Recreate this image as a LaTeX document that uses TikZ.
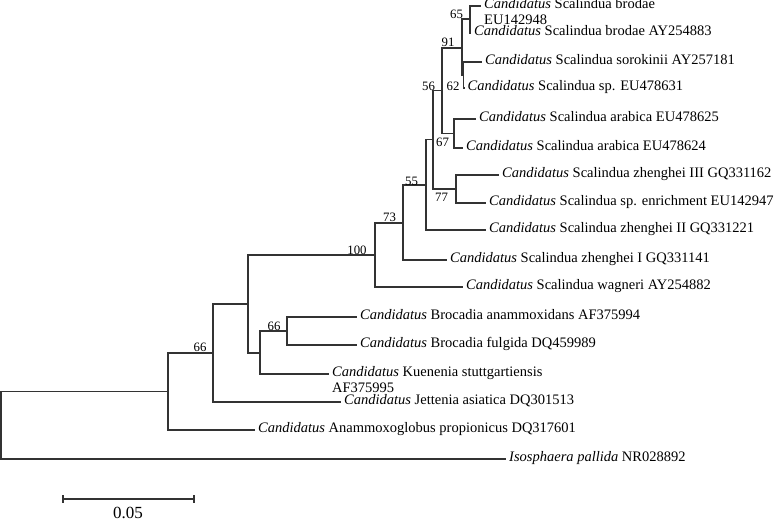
\documentclass[tikz,border=0pt]{standalone}
\usepackage{fontspec}
\setmainfont{Liberation Serif}
\begin{document}
\begin{tikzpicture}[x=1pt,y=-1pt,
  br/.style={line width=1.1pt,draw=black!80},
  leaf/.style={anchor=mid west,inner xsep=3pt,inner ysep=0pt,font=\fontsize{14.5}{16}\selectfont},
  leaftwo/.style={anchor=base west,inner xsep=3pt,inner ysep=0pt,font=\fontsize{14.5}{16}\selectfont},
  boot/.style={anchor=center,inner sep=0pt,font=\fontsize{12.8}{14}\selectfont},
  scalelab/.style={anchor=center,inner sep=0pt,font=\fontsize{17}{19}\selectfont}]
\useasboundingbox (0,0) rectangle (777,521);
% internal nodes
\coordinate (R)   at (1,425);
\coordinate (n66b) at (168,391.5);
\coordinate (nJ)  at (213,353);
\coordinate (nSB) at (248,304);
\coordinate (nBK) at (260,353);
\coordinate (n66a) at (287,331);
\coordinate (n100) at (375,255);
\coordinate (n73) at (403,223);
\coordinate (n55) at (426,185);
\coordinate (n67) at (433,139.5);
\coordinate (n77) at (456,189);
\coordinate (n56) at (442,90.5);
\coordinate (nAr) at (454,133.5);
\coordinate (n91) at (462,48);
\coordinate (n65) at (470,19);
\coordinate (n62) at (463.5,75);
% leaf tips
\coordinate (t1) at (481,6);
\coordinate (t2) at (471,33);
\coordinate (t3) at (482,62);
\coordinate (t4) at (464.5,88);
\coordinate (t5) at (476,119);
\coordinate (t6) at (463,148);
\coordinate (t7) at (499,175);
\coordinate (t8) at (486,203);
\coordinate (t9) at (486,230);
\coordinate (t10) at (447,260);
\coordinate (t11) at (463,287);
\coordinate (t12) at (357,317);
\coordinate (t13) at (357,345);
\coordinate (t14) at (329,374);
\coordinate (t15) at (341,402);
\coordinate (t16) at (255,430);
\coordinate (t17) at (506,459);
% branches
\draw[br] (R) |- (n66b); \draw[br] (R) |- (t17);
\draw[br] (n66b) |- (nJ); \draw[br] (n66b) |- (t16);
\draw[br] (nJ) |- (nSB); \draw[br] (nJ) |- (t15);
\draw[br] (nSB) |- (n100); \draw[br] (nSB) |- (nBK);
\draw[br] (nBK) |- (n66a); \draw[br] (nBK) |- (t14);
\draw[br] (n66a) |- (t12); \draw[br] (n66a) |- (t13);
\draw[br] (n100) |- (n73); \draw[br] (n100) |- (t11);
\draw[br] (n73) |- (n55); \draw[br] (n73) |- (t10);
\draw[br] (n55) |- (n67); \draw[br] (n55) |- (t9);
\draw[br] (n67) |- (n56); \draw[br] (n67) |- (n77);
\draw[br] (n77) |- (t7); \draw[br] (n77) |- (t8);
\draw[br] (n56) |- (n91); \draw[br] (n56) |- (nAr);
\draw[br] (nAr) |- (t5); \draw[br] (nAr) |- (t6);
\draw[br] (n91) |- (n65); \draw[br] (n91) |- (n62);
\draw[br] (n65) |- (t1); \draw[br] (n65) |- (t2);
\draw[br] (n62) |- (t3); \draw[br] (n62) |- (t4);
% leaf labels
\node[leaf] (l1) at (t1) {\textit{Candidatus} Scalindua brodae};
\node[leaftwo] (l1b) at ([yshift=-16pt]l1.base west) {EU142948};
\node[leaf] (l2) at (t2) {\textit{Candidatus} Scalindua brodae AY254883};
\node[leaf] (l3) at (t3) {\textit{Candidatus} Scalindua sorokinii AY257181};
\node[leaf] (l4) at (t4) {\textit{Candidatus} Scalindua sp. EU478631};
\node[leaf] (l5) at (t5) {\textit{Candidatus} Scalindua arabica EU478625};
\node[leaf] (l6) at (t6) {\textit{Candidatus} Scalindua arabica EU478624};
\node[leaf] (l7) at (t7) {\textit{Candidatus} Scalindua zhenghei III GQ331162};
\node[leaf] (l8) at (t8) {\textit{Candidatus} Scalindua sp. enrichment EU142947};
\node[leaf] (l9) at (t9) {\textit{Candidatus} Scalindua zhenghei II GQ331221};
\node[leaf] (l10) at (t10) {\textit{Candidatus} Scalindua zhenghei I GQ331141};
\node[leaf] (l11) at (t11) {\textit{Candidatus} Scalindua wagneri AY254882};
\node[leaf] (l12) at (t12) {\textit{Candidatus} Brocadia anammoxidans AF375994};
\node[leaf] (l13) at (t13) {\textit{Candidatus} Brocadia fulgida DQ459989};
\node[leaf] (l14) at (t14) {\textit{Candidatus} Kuenenia stuttgartiensis};
\node[leaftwo] (l14b) at ([yshift=-16pt]l14.base west) {AF375995};
\node[leaf] (l15) at (t15) {\textit{Candidatus} Jettenia asiatica DQ301513};
\node[leaf] (l16) at (t16) {\textit{Candidatus} Anammoxoglobus propionicus DQ317601};
\node[leaf] (l17) at (t17) {\textit{Isosphaera pallida} NR028892};
% bootstrap values
\node[boot] (b65) at (456.5,14) {65};
\node[boot] (b91) at (448,42) {91};
\node[boot] (b62) at (453,86) {62};
\node[boot] (b56) at (428.5,86) {56};
\node[boot] (b67) at (442.5,142) {67};
\node[boot] (b77) at (441.5,197.5) {77};
\node[boot] (b55) at (411.5,181) {55};
\node[boot] (b73) at (389.5,217.5) {73};
\node[boot] (b100) at (357,250) {100};
\node[boot] (b66a) at (274,326) {66};
\node[boot] (b66b) at (200,347.5) {66};
% scale bar
\coordinate (s1) at (63,499);
\coordinate (s2) at (194,499);
\draw[br] (s1) -- (s2);
\draw[br] ([yshift=4pt]s1) -- ([yshift=-4pt]s1);
\draw[br] ([yshift=4pt]s2) -- ([yshift=-4pt]s2);
\node[scalelab] (sl) at (128,512.5) {0.05};
\end{tikzpicture}
\end{document}
